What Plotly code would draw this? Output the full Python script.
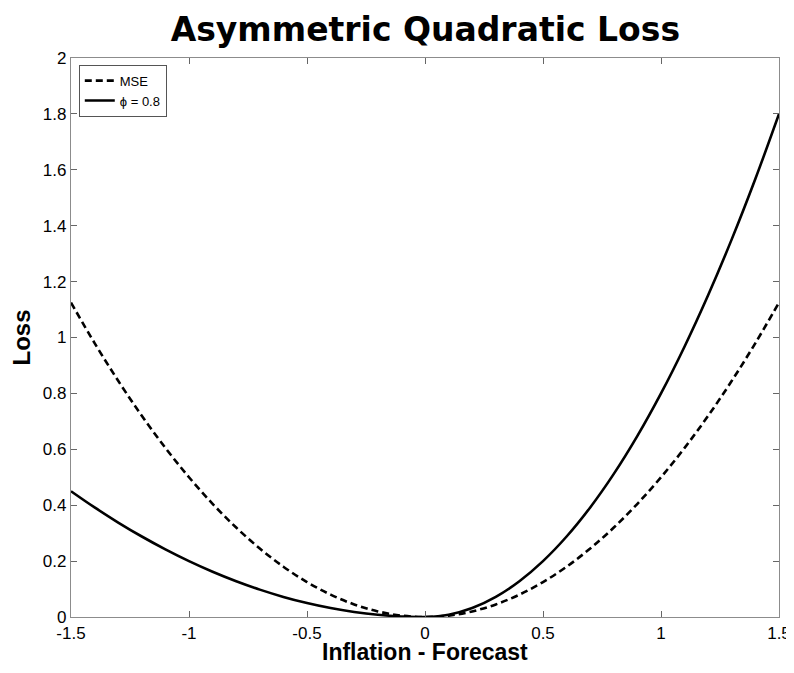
import plotly.graph_objects as go

x_vals = [-1.5, -1.4, -1.3, -1.2, -1.1, -1.0, -0.9, -0.8, -0.7, -0.6, -0.5, -0.4, -0.3, -0.2, -0.1, 0.0,
          0.1, 0.2, 0.3, 0.4, 0.5, 0.6, 0.7, 0.8, 0.9, 1.0, 1.1, 1.2, 1.3, 1.4, 1.5]
mse_loss = [1.125, 0.98, 0.845, 0.72, 0.605, 0.5, 0.405, 0.32, 0.245, 0.18, 0.125, 0.08, 0.045, 0.02, 0.005, 0.0,
            0.005, 0.02, 0.045, 0.08, 0.125, 0.18, 0.245, 0.32, 0.405, 0.5, 0.605, 0.72, 0.845, 0.98, 1.125]
asym_loss = [0.45, 0.392, 0.338, 0.288, 0.242, 0.2, 0.162, 0.128, 0.098, 0.072, 0.05, 0.032, 0.018, 0.008, 0.002, 0.0,
             0.008, 0.032, 0.072, 0.128, 0.2, 0.288, 0.392, 0.512, 0.648, 0.8, 0.968, 1.152, 1.352, 1.568, 1.8]
x_ticks = [-1.5, -1, -0.5, 0, 0.5, 1, 1.5]
x_tick_text = ["-1.5", "-1", "-0.5", "0", "0.5", "1", "1.5"]
y_ticks = [0, 0.2, 0.4, 0.6, 0.8, 1, 1.2, 1.4, 1.6, 1.8, 2]
y_tick_text = ["0", "0.2", "0.4", "0.6", "0.8", "1", "1.2", "1.4", "1.6", "1.8", "2"]
x_title = "Inflation - Forecast"
y_title = "Loss"
chart_title = "Asymmetric Quadratic Loss"

TICK_FONT = "Liberation Sans, Arial, sans-serif"
LABEL_FONT = "Liberation Sans, Arial, sans-serif"

fig = go.Figure()
fig.add_trace(go.Scatter(x=x_vals, y=mse_loss, mode="lines", name="MSE",
                         line=dict(color="black", width=2.6, dash="7px,4px", shape="spline")))
fig.add_trace(go.Scatter(x=x_vals, y=asym_loss, mode="lines", name="\u03d5 = 0.8",
                         line=dict(color="black", width=2.6, shape="spline")))

axis_common = dict(showline=True, linecolor="#8c8c8c", linewidth=1.3, mirror="ticks",
                   ticks="inside", ticklen=6, tickcolor="#666666", showgrid=False, zeroline=False,
                   ticklabeloverflow="allow", automargin=False,
                   tickfont=dict(family=TICK_FONT, size=17, color="black"))

# the page body adds an 8px offset, so the figure is sized to fit the window without scrolling
fig.update_layout(
    width=786, height=657,
    margin=dict(l=63, r=15, t=50, b=48),
    paper_bgcolor="white", plot_bgcolor="white",
    title=dict(text="<b>" + chart_title + "</b>", xref="container", x=0.531, xanchor="center",
               yref="container", y=0.968, yanchor="middle",
               font=dict(family="DejaVu Sans, Liberation Sans, sans-serif", size=33, color="black")),
    xaxis=dict(range=[-1.5, 1.5], tickvals=x_ticks, ticktext=x_tick_text, **axis_common),
    yaxis=dict(range=[0, 2], tickvals=y_ticks, ticktext=y_tick_text,
               title=dict(text="<b>" + y_title + "</b>",
                          font=dict(family=LABEL_FONT, size=24, color="black")),
               **axis_common),
    legend=dict(x=0.011, y=0.988, xanchor="left", yanchor="top", bgcolor="white",
                bordercolor="#555555", borderwidth=1, tracegroupgap=0, itemwidth=30,
                font=dict(family=LABEL_FONT, size=13, color="black")),
    showlegend=True,
)

# x-axis title placed just below the tick labels
fig.add_annotation(text="<b>" + x_title + "</b>", xref="paper", x=0.5, yref="paper", y=0,
                   xanchor="center", yanchor="top", yshift=-20, showarrow=False,
                   font=dict(family=LABEL_FONT, size=23, color="black"))

fig.write_html("out.html")
